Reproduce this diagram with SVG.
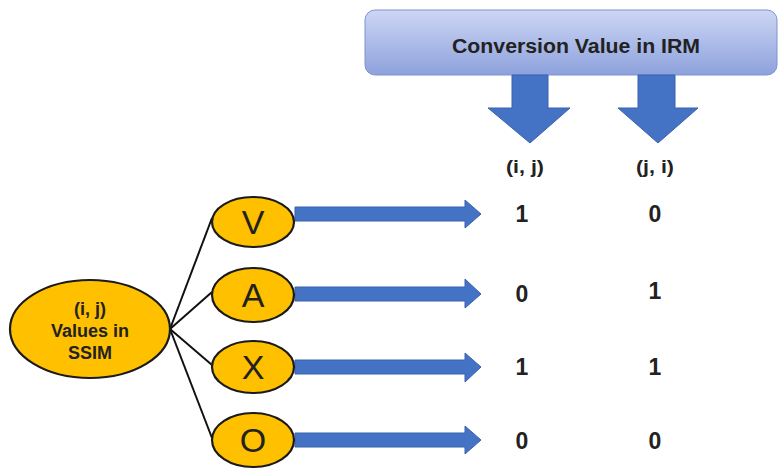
<svg xmlns="http://www.w3.org/2000/svg" width="778" height="472" viewBox="0 0 778 472">
<defs>
<linearGradient id="boxg" x1="0" y1="0" x2="0" y2="1">
<stop offset="0" stop-color="#cdd6f4"/>
<stop offset="1" stop-color="#8da1dc"/>
</linearGradient>
<style>
.ell{fill:#FFC000;stroke:#1a1a1a;stroke-width:2.2}
.arr{fill:#4472C4;stroke:#3a63ad;stroke-width:1}
.conn{stroke:#111;stroke-width:2;fill:none}
.b{font-family:"Liberation Sans",Arial,sans-serif;font-weight:bold;fill:#222;text-anchor:middle}
.letter{font-family:"Liberation Sans",Arial,sans-serif;font-size:34px;fill:#222;text-anchor:middle}
.num{font-size:23px}
.hdr{font-size:19px}
</style>
</defs>
<rect width="778" height="472" fill="#ffffff"/>
<g id="irm-box">
<rect x="365" y="10" width="412" height="65" rx="10" fill="url(#boxg)" stroke="#7f93cf" stroke-width="1"/>
<text class="b" x="576" y="53" font-size="20" fill="#111" textLength="248" lengthAdjust="spacingAndGlyphs">Conversion Value in IRM</text>
</g>
<g id="down-arrows">
<polygon class="arr" points="512,75 548,75 548,108 570,108 530,143 488,108 512,108"/>
<polygon class="arr" points="638,75 675,75 675,108 698,108 658,143 618,108 638,108"/>
</g>
<g id="headers">
<text class="b hdr" x="525" y="173" textLength="38" lengthAdjust="spacingAndGlyphs">(i, j)</text>
<text class="b hdr" x="655" y="173" textLength="38" lengthAdjust="spacingAndGlyphs">(j, i)</text>
</g>
<g id="connectors">
<line class="conn" x1="170" y1="329" x2="212" y2="218"/>
<line class="conn" x1="170" y1="329" x2="212" y2="292"/>
<line class="conn" x1="170" y1="329" x2="212" y2="365"/>
<line class="conn" x1="170" y1="329" x2="212" y2="438"/>
<polygon class="arr" points="295,207 465,207 465,200 481,214 465,228 465,221 295,221"/>
<polygon class="arr" points="295,287 465,287 465,279 481,294 465,308 465,301 295,301"/>
<polygon class="arr" points="295,360 465,360 465,353 481,367 465,382 465,374 295,374"/>
<polygon class="arr" points="295,433 465,433 465,426 481,440 465,454 465,447 295,447"/>
</g>
<g id="ssim">
<ellipse class="ell" cx="90" cy="329" rx="80" ry="49"/>
<text class="b" x="90" y="315" font-size="18">(i, j)</text>
<text class="b" x="90" y="337" font-size="18">Values in</text>
<text class="b" x="90" y="359" font-size="18">SSIM</text>
</g>
<g id="node-V">
<ellipse class="ell" cx="253" cy="222" rx="41" ry="25"/>
<text class="letter" x="253" y="234">V</text>
</g>
<g id="node-A">
<ellipse class="ell" cx="253" cy="295" rx="41" ry="27"/>
<text class="letter" x="253" y="307">A</text>
</g>
<g id="node-X">
<ellipse class="ell" cx="253" cy="367" rx="41" ry="26"/>
<text class="letter" x="253" y="379">X</text>
</g>
<g id="node-O">
<ellipse class="ell" cx="253" cy="440" rx="41" ry="27"/>
<text class="letter" x="253" y="452">O</text>
</g>
<g id="values">
<text class="b num" x="522" y="222">1</text>
<text class="b num" x="655" y="222">0</text>
<text class="b num" x="522" y="302">0</text>
<text class="b num" x="655" y="299">1</text>
<text class="b num" x="522" y="375">1</text>
<text class="b num" x="655" y="375">1</text>
<text class="b num" x="522" y="449">0</text>
<text class="b num" x="655" y="449">0</text>
</g>
</svg>
